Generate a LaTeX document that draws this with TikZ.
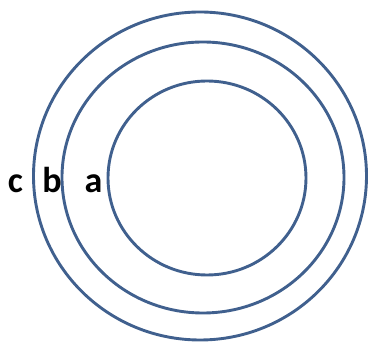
\documentclass[tikz,border=0pt]{standalone}
\usepackage{fontspec}
\setmainfont{Carlito}
\usepackage{tikz}
\definecolor{ringblue}{RGB}{64,96,142}

\tikzset{
  ring/.style={draw=ringblue, line width=2.9pt},
  lbl/.style={anchor=base, inner sep=0pt, font=\fontsize{36}{42}\selectfont\bfseries}
}

\begin{document}
\begin{tikzpicture}[x=1pt, y=-1pt]
  \useasboundingbox (0,0) rectangle (368,344);
  % rings, outside in
  \draw[ring] (200,176) ellipse [x radius=166.5pt, y radius=164pt];
  \draw[ring] (203,177.5) ellipse [x radius=141pt, y radius=135.5pt];
  \draw[ring] (207,178) ellipse [x radius=99pt, y radius=97pt];
  % labels
  \node[lbl] (c) at (15.5,193) {c};
  \node[lbl] (b) at (52,193) {b};
  \node[lbl] (a) at (93.5,193) {a};
\end{tikzpicture}
\end{document}
